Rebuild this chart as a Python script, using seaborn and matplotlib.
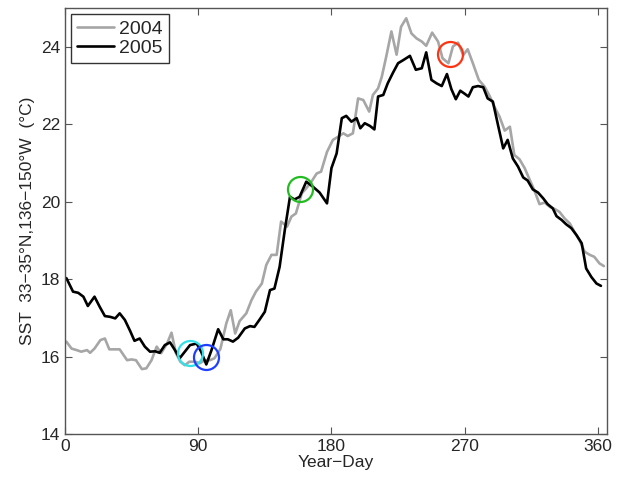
import seaborn as sns
import matplotlib.pyplot as plt
import pandas as pd

# Datos (dia del año, SST en °C)
dias_2004 = [1, 4.5, 8, 11, 15, 17, 20, 24, 27, 30, 34, 37, 42, 45, 48, 52, 55, 58.5, 62, 65, 69,
             72, 75, 78, 81, 84, 88, 91, 94.5, 98, 101, 105, 109, 112, 115, 118, 122.5, 126, 129,
             133, 136, 139.5, 143, 146, 150, 153, 156, 160, 163, 166.5, 170, 173, 177, 181, 184.5,
             188, 191, 194.5, 198, 201.5, 205.5, 208, 211.5, 214, 217, 220.5, 224, 227, 230.5,
             234, 237.5, 241, 244, 248, 252, 255, 259, 262, 265.5, 269, 272, 275.5, 279.5, 283.5,
             287, 290, 293.5, 297, 300.5, 303.5, 307, 310.5, 314, 317, 320.5, 324, 327.5, 331,
             334, 337.5, 341, 344, 347.5, 351, 354.5, 357.5, 361, 364]
sst_2004 = [16.39, 16.21, 16.17, 16.13, 16.17, 16.10, 16.21, 16.43, 16.47, 16.19, 16.19, 16.19,
            15.91, 15.93, 15.91, 15.68, 15.70, 15.91, 16.26, 16.09, 16.34, 16.62, 16.09, 15.87,
            15.78, 15.87, 15.87, 15.83, 15.91, 15.91, 15.96, 16.20, 16.86, 17.20, 16.60, 16.92,
            17.12, 17.46, 17.68, 17.89, 18.37, 18.63, 18.63, 19.49, 19.36, 19.62, 19.70, 20.22,
            20.35, 20.52, 20.73, 20.78, 21.29, 21.60, 21.68, 21.77, 21.70, 21.77, 22.67, 22.63,
            22.33, 22.76, 22.93, 23.23, 23.75, 24.40, 23.80, 24.52, 24.74, 24.35, 24.22, 24.14,
            24.03, 24.37, 24.14, 23.71, 23.58, 24.01, 24.11, 23.79, 23.94, 23.58, 23.15, 22.97,
            22.72, 22.46, 22.20, 21.84, 21.94, 21.21, 21.10, 20.87, 20.56, 20.30, 19.94, 19.98,
            19.87, 19.81, 19.74, 19.57, 19.44, 19.23, 19.01, 18.71, 18.63, 18.58, 18.41, 18.34]

dias_2005 = [1, 5.5, 9, 12.5, 15.5, 20, 23.5, 27, 30.5, 34, 37, 40.5, 44, 47, 50.5, 54, 57.5, 61,
             64, 67.5, 71, 74, 77.5, 81, 84.5, 89, 92, 95.5, 99, 103.5, 107, 110, 113.5, 117,
             121.5, 125, 128, 131.5, 135, 138.5, 141.5, 145, 148.5, 152, 155, 158.5, 163, 167.5,
             172, 177, 180, 183.5, 187, 190, 193.5, 197, 199.5, 202.5, 206, 209, 211.5, 215, 218,
             221.5, 225, 228.5, 233, 237, 241, 244, 247.5, 251, 254.5, 258, 261, 264, 267, 270,
             272.5, 275.5, 279, 282.5, 285.5, 289, 292.5, 296, 299, 302.5, 306, 309.5, 312.5, 316,
             319.5, 323, 326, 329.5, 332, 335.5, 338.5, 342, 345.5, 349, 352, 355.5, 359, 362]
sst_2005 = [18.03, 17.68, 17.65, 17.55, 17.31, 17.55, 17.29, 17.05, 17.03, 16.99, 17.12, 16.95,
            16.67, 16.41, 16.47, 16.26, 16.13, 16.14, 16.10, 16.30, 16.37, 16.19, 15.96, 16.13,
            16.30, 16.34, 16.13, 15.80, 16.17, 16.71, 16.45, 16.45, 16.39, 16.49, 16.73, 16.79,
            16.77, 16.96, 17.16, 17.72, 17.76, 18.32, 19.27, 20.13, 20.06, 20.13, 20.52, 20.39,
            20.24, 19.96, 20.87, 21.25, 22.16, 22.22, 22.07, 22.16, 21.90, 22.03, 21.96, 21.87,
            22.72, 22.76, 23.06, 23.33, 23.58, 23.66, 23.77, 23.41, 23.45, 23.86, 23.15, 23.06,
            22.99, 23.30, 22.91, 22.65, 22.87, 22.79, 22.72, 22.96, 22.99, 22.96, 22.67, 22.59,
            21.98, 21.38, 21.60, 21.12, 20.91, 20.63, 20.55, 20.32, 20.24, 20.09, 19.94, 19.83,
            19.63, 19.53, 19.42, 19.32, 19.14, 18.93, 18.28, 18.06, 17.89, 17.83]

# Circulos marcados
circ_dias = [84.5, 95.5, 159, 260]
circ_sst = [16.10, 16.00, 20.32, 23.81]
circ_colores = ['#33e0e8', '#1f3fff', '#22bb22', '#ff3311']

datos = pd.concat([
    pd.DataFrame({'dia': dias_2004, 'sst': sst_2004, 'año': '2004'}),
    pd.DataFrame({'dia': dias_2005, 'sst': sst_2005, 'año': '2005'}),
])

sns.set_style('ticks')
plt.rcParams['font.family'] = ['Liberation Sans', 'DejaVu Sans']

fig, ax = plt.subplots(figsize=(6.18, 4.84), dpi=100)
fig.subplots_adjust(left=0.105, right=0.982, bottom=0.103, top=0.983)

sns.lineplot(data=datos, x='dia', y='sst', hue='año', palette=['#a6a6a6', 'black'],
             linewidth=1.9, ax=ax)

for d, s, c in zip(circ_dias, circ_sst, circ_colores):
    ax.plot(d, s, marker='o', markersize=18, markerfacecolor='none',
            markeredgecolor=c, markeredgewidth=1.6)

ax.set_xlim(0, 366)
ax.set_ylim(14, 25)
ax.set_xticks([0, 90, 180, 270, 360])
ax.set_yticks([14, 16, 18, 20, 22, 24])
ax.tick_params(direction='in', top=True, right=True, labelsize=12.5, length=5, color='#555555')
for sp in ax.spines.values():
    sp.set_color('#555555')
    sp.set_linewidth(1.0)
ax.set_xlabel('Year\u2212Day', fontsize=12.5, labelpad=1)
ax.set_ylabel('SST  33\u221235\u00b0N,136\u2212150\u00b0W  (\u00b0C)', fontsize=12.5)

leg = ax.legend(loc='upper left', fontsize=14, fancybox=False, edgecolor='black',
                handlelength=1.9, handletextpad=0.3, borderaxespad=0.3, labelspacing=0.1,
                borderpad=0.3)
leg.get_frame().set_linewidth(1.0)

plt.savefig('out.png', dpi=100)
